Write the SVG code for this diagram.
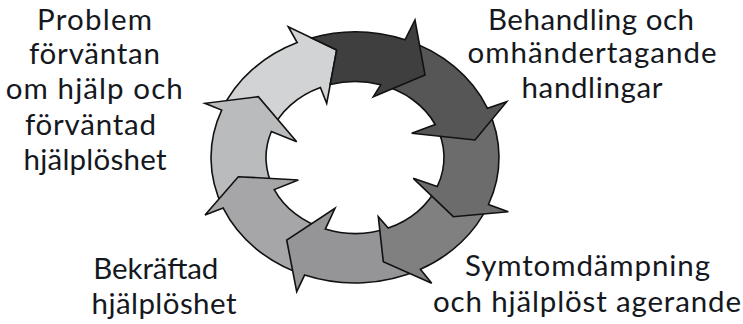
<svg xmlns="http://www.w3.org/2000/svg" width="743" height="324" viewBox="0 0 743 324">
<style>
.arr{stroke:#111;stroke-width:1.6;stroke-linejoin:miter}
.lbl{font-family:Lato,"Open Sans","Liberation Sans",sans-serif;font-size:29.5px;fill:#151820;text-anchor:middle}
</style>
<rect width="743" height="324" fill="#fff"/>
<g id="connectors">
<path id="arrow8" class="arr" fill="#d2d3d5" d="M221.7,110.1 A144,125.5 0 0 1 297.2,42.6 L288.3,26.7 L336.7,50 L326.7,103.3 L320.4,87.5 A89,76 0 0 0 271.4,131.5 Z"/>
<path id="arrow7" class="arr" fill="#babbbd" d="M223.2,208.1 A144,125.5 0 0 1 221.7,110.1 L205,103.3 L258.3,96.7 L296.7,141.7 L271.4,131.5 A89,76 0 0 0 274.3,189.6 Z"/>
<path id="arrow6" class="arr" fill="#a6a6a8" d="M304.6,275.1 A144,125.5 0 0 1 223.2,208.1 L205,215 L238.3,176.7 L298.3,180 L274.3,189.6 A89,76 0 0 0 325.3,229.1 Z"/>
<path id="arrow5" class="arr" fill="#959597" d="M420.4,269.3 A144,125.5 0 0 1 304.6,275.1 L296.7,291.7 L286.7,240 L335,208.3 L325.3,229.1 A89,76 0 0 0 388.2,228 Z"/>
<path id="arrow4" class="arr" fill="#808080" d="M488.5,204.5 A144,125.5 0 0 1 420.4,269.3 L431.7,283.3 L383.3,261.7 L378.3,216.7 L388.2,228 A89,76 0 0 0 437.2,186.6 Z"/>
<path id="arrow3" class="arr" fill="#6c6c6c" d="M487.5,108.3 A144,125.5 0 0 1 488.5,204.5 L508.3,211.7 L453.3,216.7 L413.3,178.3 L437.2,186.6 A89,76 0 0 0 435.2,124.5 Z"/>
<path id="arrow2" class="arr" fill="#565656" d="M405,39.8 A144,125.5 0 0 1 487.5,108.3 L506.7,101.7 L475,140 L411.7,133.3 L435.2,124.5 A89,76 0 0 0 380.7,84.8 Z"/>
<path id="arrow1" class="arr" fill="#3f3f3f" d="M311.5,37.9 A144,125.5 0 0 1 405,39.8 L415,20 L425,75 L373.3,96.7 L380.7,84.8 A89,76 0 0 0 330.2,84.5 L336.7,50 Z"/>
</g>
<g id="label-problem">
<text class="lbl" x="94.5" y="29.5" textLength="115">Problem</text>
<text class="lbl" x="94.5" y="64" textLength="131">förväntan</text>
<text class="lbl" x="94.3" y="99" textLength="177">om hjälp och</text>
<text class="lbl" x="90.5" y="134.5" textLength="131">förväntad</text>
<text class="lbl" x="95" y="170" textLength="143">hjälplöshet</text>
</g>
<g id="label-behandling">
<text class="lbl" x="591" y="29.5" textLength="206">Behandling och</text>
<text class="lbl" x="592" y="63" textLength="249">omhändertagande</text>
<text class="lbl" x="592" y="97.5" textLength="141">handlingar</text>
</g>
<g id="label-symtom">
<text class="lbl" x="587.5" y="276" textLength="245">Symtomdämpning</text>
<text class="lbl" x="587" y="312" textLength="308">och hjälplöst agerande</text>
</g>
<g id="label-bekraftad">
<text class="lbl" x="155.8" y="278.5" textLength="125">Bekräftad</text>
<text class="lbl" x="164" y="314" textLength="145">hjälplöshet</text>
</g>
</svg>
